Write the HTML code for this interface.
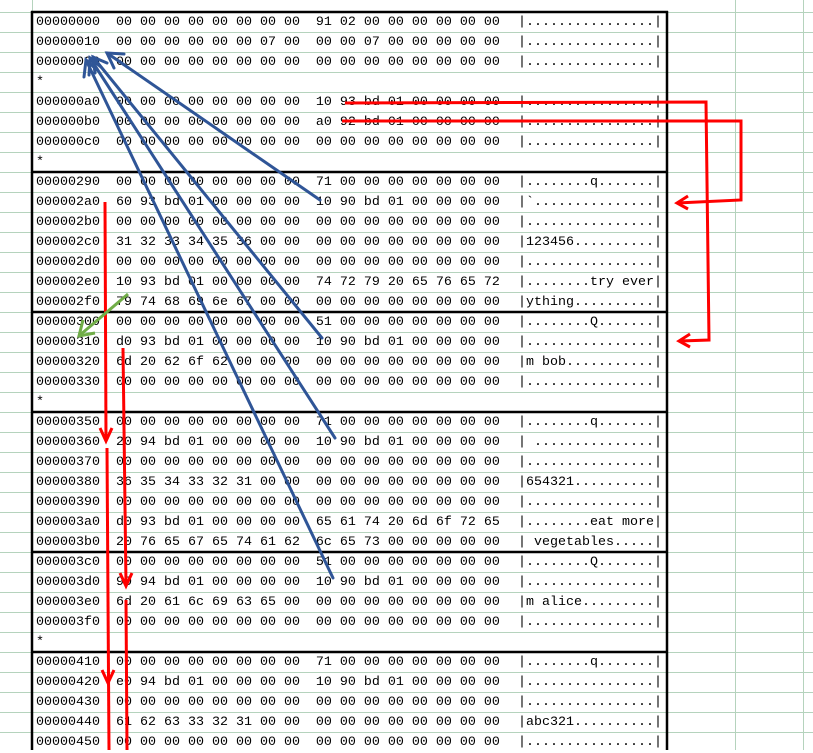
<!DOCTYPE html>
<html><head><meta charset="utf-8"><style>
html,body{margin:0;padding:0;background:#fff;}
body{width:813px;height:750px;position:relative;overflow:hidden;font-family:"Liberation Mono",monospace;font-size:13.33px;color:#000;}
.r{position:absolute;left:36px;height:20px;line-height:21px;white-space:pre;}
.a{position:absolute;left:518px;height:20px;line-height:21px;white-space:pre;}
svg{position:absolute;left:0;top:0;}
</style></head><body>
<svg width="813" height="750" style="z-index:0">
<g stroke="#b5d3bd" stroke-width="1">
<line x1="32.5" y1="0" x2="32.5" y2="750"/>
<line x1="735.5" y1="0" x2="735.5" y2="750"/>
<line x1="803.5" y1="0" x2="803.5" y2="750"/>
<line x1="0" y1="12.5" x2="813" y2="12.5"/><line x1="0" y1="32.5" x2="813" y2="32.5"/><line x1="0" y1="52.5" x2="813" y2="52.5"/><line x1="0" y1="72.5" x2="813" y2="72.5"/><line x1="0" y1="92.5" x2="813" y2="92.5"/><line x1="0" y1="112.5" x2="813" y2="112.5"/><line x1="0" y1="132.5" x2="813" y2="132.5"/><line x1="0" y1="152.5" x2="813" y2="152.5"/><line x1="0" y1="172.5" x2="813" y2="172.5"/><line x1="0" y1="192.5" x2="813" y2="192.5"/><line x1="0" y1="212.5" x2="813" y2="212.5"/><line x1="0" y1="232.5" x2="813" y2="232.5"/><line x1="0" y1="252.5" x2="813" y2="252.5"/><line x1="0" y1="272.5" x2="813" y2="272.5"/><line x1="0" y1="292.5" x2="813" y2="292.5"/><line x1="0" y1="312.5" x2="813" y2="312.5"/><line x1="0" y1="332.5" x2="813" y2="332.5"/><line x1="0" y1="352.5" x2="813" y2="352.5"/><line x1="0" y1="372.5" x2="813" y2="372.5"/><line x1="0" y1="392.5" x2="813" y2="392.5"/><line x1="0" y1="412.5" x2="813" y2="412.5"/><line x1="0" y1="432.5" x2="813" y2="432.5"/><line x1="0" y1="452.5" x2="813" y2="452.5"/><line x1="0" y1="472.5" x2="813" y2="472.5"/><line x1="0" y1="492.5" x2="813" y2="492.5"/><line x1="0" y1="512.5" x2="813" y2="512.5"/><line x1="0" y1="532.5" x2="813" y2="532.5"/><line x1="0" y1="552.5" x2="813" y2="552.5"/><line x1="0" y1="572.5" x2="813" y2="572.5"/><line x1="0" y1="592.5" x2="813" y2="592.5"/><line x1="0" y1="612.5" x2="813" y2="612.5"/><line x1="0" y1="632.5" x2="813" y2="632.5"/><line x1="0" y1="652.5" x2="813" y2="652.5"/><line x1="0" y1="672.5" x2="813" y2="672.5"/><line x1="0" y1="692.5" x2="813" y2="692.5"/><line x1="0" y1="712.5" x2="813" y2="712.5"/><line x1="0" y1="732.5" x2="813" y2="732.5"/>
</g>
<g fill="#fff"><rect x="34" y="74" width="632" height="17"/><rect x="34" y="154" width="632" height="17"/><rect x="34" y="394" width="632" height="17"/><rect x="34" y="634" width="632" height="17"/></g>
<g stroke="#000" stroke-width="2.5">
<line x1="32" y1="11" x2="32" y2="750"/><line x1="667" y1="11" x2="667" y2="750"/>
<line x1="31" y1="12" x2="668" y2="12"/><line x1="31" y1="172" x2="668" y2="172"/><line x1="31" y1="312" x2="668" y2="312"/><line x1="31" y1="412" x2="668" y2="412"/><line x1="31" y1="552" x2="668" y2="552"/><line x1="31" y1="652" x2="668" y2="652"/>
</g>
</svg>
<div style="position:absolute;left:0;top:0;z-index:1">
<div class="r" style="top:12px">00000000  00 00 00 00 00 00 00 00  91 02 00 00 00 00 00 00</div><div class="a" style="top:12px">|................|</div>
<div class="r" style="top:32px">00000010  00 00 00 00 00 00 07 00  00 00 07 00 00 00 00 00</div><div class="a" style="top:32px">|................|</div>
<div class="r" style="top:52px">00000020  00 00 00 00 00 00 00 00  00 00 00 00 00 00 00 00</div><div class="a" style="top:52px">|................|</div>
<div class="r" style="top:72px">*</div>
<div class="r" style="top:92px">000000a0  00 00 00 00 00 00 00 00  10 93 bd 01 00 00 00 00</div><div class="a" style="top:92px">|................|</div>
<div class="r" style="top:112px">000000b0  00 00 00 00 00 00 00 00  a0 92 bd 01 00 00 00 00</div><div class="a" style="top:112px">|................|</div>
<div class="r" style="top:132px">000000c0  00 00 00 00 00 00 00 00  00 00 00 00 00 00 00 00</div><div class="a" style="top:132px">|................|</div>
<div class="r" style="top:152px">*</div>
<div class="r" style="top:172px">00000290  00 00 00 00 00 00 00 00  71 00 00 00 00 00 00 00</div><div class="a" style="top:172px">|........q.......|</div>
<div class="r" style="top:192px">000002a0  60 93 bd 01 00 00 00 00  10 90 bd 01 00 00 00 00</div><div class="a" style="top:192px">|`...............|</div>
<div class="r" style="top:212px">000002b0  00 00 00 00 00 00 00 00  00 00 00 00 00 00 00 00</div><div class="a" style="top:212px">|................|</div>
<div class="r" style="top:232px">000002c0  31 32 33 34 35 36 00 00  00 00 00 00 00 00 00 00</div><div class="a" style="top:232px">|123456..........|</div>
<div class="r" style="top:252px">000002d0  00 00 00 00 00 00 00 00  00 00 00 00 00 00 00 00</div><div class="a" style="top:252px">|................|</div>
<div class="r" style="top:272px">000002e0  10 93 bd 01 00 00 00 00  74 72 79 20 65 76 65 72</div><div class="a" style="top:272px">|........try ever|</div>
<div class="r" style="top:292px">000002f0  79 74 68 69 6e 67 00 00  00 00 00 00 00 00 00 00</div><div class="a" style="top:292px">|ything..........|</div>
<div class="r" style="top:312px">00000300  00 00 00 00 00 00 00 00  51 00 00 00 00 00 00 00</div><div class="a" style="top:312px">|........Q.......|</div>
<div class="r" style="top:332px">00000310  d0 93 bd 01 00 00 00 00  10 90 bd 01 00 00 00 00</div><div class="a" style="top:332px">|................|</div>
<div class="r" style="top:352px">00000320  6d 20 62 6f 62 00 00 00  00 00 00 00 00 00 00 00</div><div class="a" style="top:352px">|m bob...........|</div>
<div class="r" style="top:372px">00000330  00 00 00 00 00 00 00 00  00 00 00 00 00 00 00 00</div><div class="a" style="top:372px">|................|</div>
<div class="r" style="top:392px">*</div>
<div class="r" style="top:412px">00000350  00 00 00 00 00 00 00 00  71 00 00 00 00 00 00 00</div><div class="a" style="top:412px">|........q.......|</div>
<div class="r" style="top:432px">00000360  20 94 bd 01 00 00 00 00  10 90 bd 01 00 00 00 00</div><div class="a" style="top:432px">| ...............|</div>
<div class="r" style="top:452px">00000370  00 00 00 00 00 00 00 00  00 00 00 00 00 00 00 00</div><div class="a" style="top:452px">|................|</div>
<div class="r" style="top:472px">00000380  36 35 34 33 32 31 00 00  00 00 00 00 00 00 00 00</div><div class="a" style="top:472px">|654321..........|</div>
<div class="r" style="top:492px">00000390  00 00 00 00 00 00 00 00  00 00 00 00 00 00 00 00</div><div class="a" style="top:492px">|................|</div>
<div class="r" style="top:512px">000003a0  d0 93 bd 01 00 00 00 00  65 61 74 20 6d 6f 72 65</div><div class="a" style="top:512px">|........eat more|</div>
<div class="r" style="top:532px">000003b0  20 76 65 67 65 74 61 62  6c 65 73 00 00 00 00 00</div><div class="a" style="top:532px">| vegetables.....|</div>
<div class="r" style="top:552px">000003c0  00 00 00 00 00 00 00 00  51 00 00 00 00 00 00 00</div><div class="a" style="top:552px">|........Q.......|</div>
<div class="r" style="top:572px">000003d0  90 94 bd 01 00 00 00 00  10 90 bd 01 00 00 00 00</div><div class="a" style="top:572px">|................|</div>
<div class="r" style="top:592px">000003e0  6d 20 61 6c 69 63 65 00  00 00 00 00 00 00 00 00</div><div class="a" style="top:592px">|m alice.........|</div>
<div class="r" style="top:612px">000003f0  00 00 00 00 00 00 00 00  00 00 00 00 00 00 00 00</div><div class="a" style="top:612px">|................|</div>
<div class="r" style="top:632px">*</div>
<div class="r" style="top:652px">00000410  00 00 00 00 00 00 00 00  71 00 00 00 00 00 00 00</div><div class="a" style="top:652px">|........q.......|</div>
<div class="r" style="top:672px">00000420  e0 94 bd 01 00 00 00 00  10 90 bd 01 00 00 00 00</div><div class="a" style="top:672px">|................|</div>
<div class="r" style="top:692px">00000430  00 00 00 00 00 00 00 00  00 00 00 00 00 00 00 00</div><div class="a" style="top:692px">|................|</div>
<div class="r" style="top:712px">00000440  61 62 63 33 32 31 00 00  00 00 00 00 00 00 00 00</div><div class="a" style="top:712px">|abc321..........|</div>
<div class="r" style="top:732px">00000450  00 00 00 00 00 00 00 00  00 00 00 00 00 00 00 00</div><div class="a" style="top:732px">|................|</div>
</div>
<svg width="813" height="750" style="z-index:2">
<g stroke="#2f5597" stroke-width="3" fill="none" stroke-linecap="round">
<line x1="320" y1="200" x2="107" y2="53"/><path d="M124 54 L107 53 L114 68"/>
<line x1="322" y1="338" x2="93" y2="57"/><path d="M107 63 L93 57 L95 73"/>
<line x1="335" y1="438" x2="90" y2="58"/><path d="M101 67 L90 58 L89 75"/>
<line x1="333" y1="578" x2="86" y2="60"/><path d="M97 70 L86 60 L84 77"/>
</g>
<g stroke="#ff0000" stroke-width="3" fill="none" stroke-linejoin="miter">
<polyline points="345,103 706,102 709,340 680,341"/><path d="M690 334 L679 341 L690 347"/>
<polyline points="342,121 741,121 741,200 677,203"/><path d="M688 196 L677 203 L688 209"/>
<line x1="105" y1="202" x2="106" y2="440"/><path d="M100 428 L106 441 L112 428"/>
<line x1="107" y1="448" x2="109" y2="750"/><path d="M102 670 L108 683 L114 670"/>
<line x1="123" y1="348" x2="126" y2="585"/><path d="M120 573 L126 586 L132 573"/>
<line x1="126" y1="600" x2="127" y2="750"/>
</g>
<g stroke="#70ad47" stroke-width="3" fill="none">
<line x1="128" y1="294" x2="80" y2="335"/><path d="M83 320 L79 336 L95 333"/>
</g>
</svg>
</body></html>
